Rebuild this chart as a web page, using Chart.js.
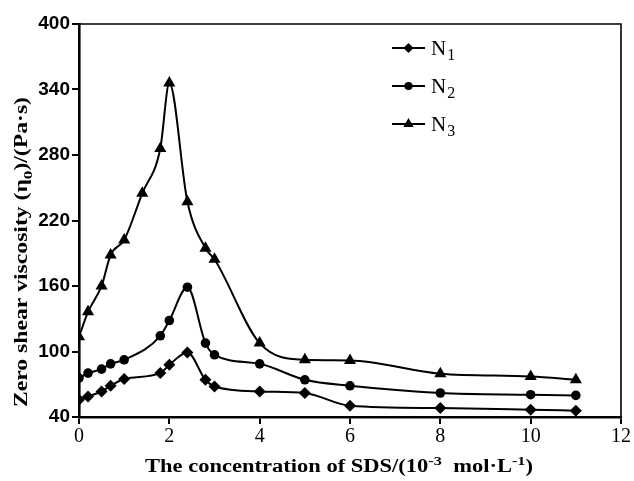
<!DOCTYPE html>
<html>
<head>
<meta charset="utf-8">
<script src="https://cdn.jsdelivr.net/npm/chart.js@4.4.1/dist/chart.umd.min.js"></script>
<style>
  html, body { margin: 0; padding: 0; background: #fff; }
  #wrap { width: 634px; height: 481px; }
</style>
</head>
<body>
<div id="wrap"><canvas id="c" width="634" height="481"></canvas></div>
<script>
// SDS concentration (10^-3 mol/L)
const concN3 = [0, 0.2, 0.5, 0.7, 1.0, 1.4, 1.8, 2.0, 2.4, 2.8, 3.0, 4, 5, 6, 8, 10, 11];
const concN12 = [0, 0.2, 0.5, 0.7, 1.0, 1.8, 2.0, 2.4, 2.8, 3.0, 4, 5, 6, 8, 10, 11];
// Zero shear viscosity (Pa·s)
const viscN1 = [55.8, 58.8, 63.4, 68.6, 74.8, 80.2, 87.8, 99.1, 74.1, 68.0, 63.4, 62.0, 50.3, 48.2, 46.7, 45.8];
const viscN2 = [75.7, 80.2, 83.9, 88.7, 92.4, 114.4, 128.4, 158.9, 107.7, 97.0, 88.7, 74.1, 68.6, 62.0, 60.4, 59.8];
const viscN3 = [113.4, 136.3, 160.1, 188.4, 202.2, 244.9, 286.0, 346.0, 237.2, 194.6, 184.5, 107.7, 92.4, 91.8, 79.6, 77.1, 74.1];
const seriesNames = ['N1', 'N2', 'N3'];
const xTicks = [0, 2, 4, 6, 8, 10, 12];
const yTicks = [40, 100, 160, 220, 280, 340, 400];

const pts = (xs, ys) => xs.map((x, i) => ({ x: x, y: ys[i] }));

const SERIF = '"Liberation Serif", "Times New Roman", serif';
const NARROW = '"Liberation Sans Narrow", "Arial Narrow", "Liberation Sans", sans-serif';

// Draw text made of normal / subscript / superscript runs, stretched to a given width
function drawRich(ctx, parts, cx, cy, targetW, size, weight, angle) {
  ctx.save();
  ctx.translate(cx, cy);
  ctx.rotate(angle || 0);
  const fontFor = p => `${weight} ${p.s ? Math.round(size * 0.72) : size}px ${SERIF}`;
  let total = 0;
  parts.forEach(p => { ctx.font = fontFor(p); p.w = ctx.measureText(p.t).width; total += p.w; });
  const sx = targetW ? targetW / total : 1;
  ctx.scale(sx, 1);
  ctx.fillStyle = '#000';
  ctx.textBaseline = 'alphabetic';
  ctx.textAlign = 'left';
  let x = -total / 2;
  parts.forEach(p => {
    ctx.font = fontFor(p);
    const dy = p.s === 1 ? size * 0.28 : (p.s === -1 ? -size * 0.38 : 0);
    ctx.fillText(p.t, x, size * 0.35 + dy);
    x += p.w;
  });
  ctx.restore();
}

function marker(ctx, style, x, y, r) {
  ctx.beginPath();
  if (style === 'triangle') {
    for (let k = 0; k < 3; k++) {
      const a = k * 2 * Math.PI / 3;
      ctx[k ? 'lineTo' : 'moveTo'](x + Math.sin(a) * r, y - Math.cos(a) * r);
    }
    ctx.closePath();
  } else if (style === 'rectRot') {
    ctx.moveTo(x, y - r); ctx.lineTo(x + r, y); ctx.lineTo(x, y + r); ctx.lineTo(x - r, y); ctx.closePath();
  } else {
    ctx.arc(x, y, r, 0, Math.PI * 2);
  }
  ctx.fill();
}

const styles = ['rectRot', 'circle', 'triangle'];
const radii = [6, 4.8, 7];

const decor = {
  id: 'decor',
  afterDraw(chart) {
    const ctx = chart.ctx;
    const a = chart.chartArea;
    ctx.save();
    // frame: top and right edges
    ctx.strokeStyle = '#000';
    ctx.lineWidth = 1.6;
    ctx.beginPath();
    ctx.moveTo(a.left - 7, a.top);
    ctx.lineTo(a.right, a.top);
    ctx.lineTo(a.right, a.bottom);
    ctx.stroke();

    // legend
    const rows = [48, 86, 124];
    ctx.fillStyle = '#000';
    rows.forEach((y, i) => {
      ctx.lineWidth = 2.2;
      ctx.beginPath();
      ctx.moveTo(392, y);
      ctx.lineTo(425, y);
      ctx.stroke();
      marker(ctx, styles[i], 408.5, y, radii[i] * 0.85);
      ctx.font = `21px ${SERIF}`;
      ctx.textBaseline = 'alphabetic';
      ctx.textAlign = 'left';
      ctx.fillText(seriesNames[i][0], 431, y + 7);
      const w = ctx.measureText(seriesNames[i][0]).width;
      ctx.font = `16px ${SERIF}`;
      ctx.fillText(seriesNames[i].slice(1), 431 + w + 1, y + 12);
    });

    // axis titles
    drawRich(ctx, [
      { t: 'Zero shear viscosity (\u03b7', s: 0 },
      { t: '0', s: 1 },
      { t: ')/(Pa\u00b7s)', s: 0 }
    ], 21, 252, 310, 18, 'bold', -Math.PI / 2);
    drawRich(ctx, [
      { t: 'The concentration of SDS/(10', s: 0 },
      { t: '-3', s: -1 },
      { t: '  mol\u00b7L', s: 0 },
      { t: '-1', s: -1 },
      { t: ')', s: 0 }
    ], 339, 466, 388, 18, 'bold', 0);
    ctx.restore();
  }
};

const common = {
  borderColor: '#000',
  backgroundColor: '#000',
  pointBackgroundColor: '#000',
  pointBorderColor: '#000',
  borderWidth: 2,
  pointBorderWidth: 0,
  cubicInterpolationMode: 'monotone',
  fill: false
};

new Chart(document.getElementById('c'), {
  type: 'line',
  data: {
    datasets: [
      Object.assign({ label: seriesNames[0], data: pts(concN12, viscN1), pointStyle: styles[0], pointRadius: radii[0] }, common),
      Object.assign({ label: seriesNames[1], data: pts(concN12, viscN2), pointStyle: styles[1], pointRadius: radii[1] }, common),
      Object.assign({ label: seriesNames[2], data: pts(concN3, viscN3), pointStyle: styles[2], pointRadius: radii[2] }, common)
    ]
  },
  options: {
    responsive: false,
    animation: false,
    devicePixelRatio: 1,
    layout: { padding: { top: 24, right: 13, left: 0, bottom: 0 } },
    plugins: { legend: { display: false }, tooltip: { enabled: false } },
    scales: {
      x: {
        type: 'linear',
        min: 0, max: 12,
        afterBuildTicks: s => { s.ticks = xTicks.map(v => ({ value: v })); },
        afterFit: s => { s.height = 64; },
        ticks: { color: '#000', font: { family: SERIF, size: 20 }, padding: 1, maxRotation: 0 },
        grid: { drawOnChartArea: false, drawTicks: true, tickLength: 7, color: '#000', lineWidth: 2 },
        border: { display: true, color: '#000', width: 2.6 }
      },
      y: {
        type: 'linear',
        min: 40, max: 400,
        afterBuildTicks: s => { s.ticks = yTicks.map(v => ({ value: v })); },
        afterFit: s => { s.width = 79; },
        ticks: { color: '#000', font: { family: NARROW, size: 19, weight: 'bold' }, padding: 2 },
        grid: { drawOnChartArea: false, drawTicks: true, tickLength: 7, color: '#000', lineWidth: 2 },
        border: { display: true, color: '#000', width: 2.6 }
      }
    }
  },
  plugins: [decor]
});
</script>
</body>
</html>
